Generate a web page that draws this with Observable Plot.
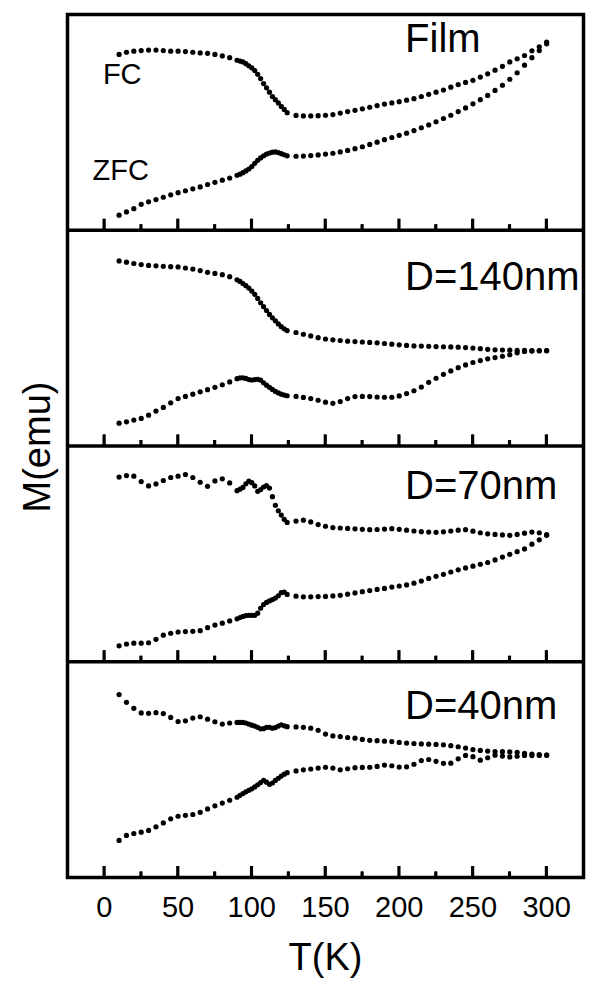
<!DOCTYPE html>
<html>
<head>
<meta charset="utf-8">
<script src="https://cdn.jsdelivr.net/npm/d3@7"></script>
<script src="https://cdn.jsdelivr.net/npm/@observablehq/plot@0.6"></script>
<style>
  html, body { margin: 0; padding: 0; background: #fff; }
  #chart { width: 600px; height: 987px; background: #fff; }
  #chart svg { font-family: "Liberation Sans", Arial, Helvetica, sans-serif; }
</style>
</head>
<body>
<div id="chart"></div>
<script>
// ---- data (M in arbitrary units, 0 = panel bottom, 100 = panel top) ----
const panels = ["Film", "D=140nm", "D=70nm", "D=40nm"];

const temps = [10,15,20,25,30,35,40,45,50,55,60,65,70,75,80,85,90,
  92,94,96,98,100,102,104,106,108,110,112,114,116,118,120,122,124,
  130,135,140,145,150,155,160,165,170,175,180,185,190,195,200,205,210,215,220,225,230,235,240,245,250,255,260,265,270,275,280,285,290,295,300];

const filmFC = [81.5,82.5,83,83.3,83.5,83.5,83.3,83,83,82.8,82.5,82.2,82,81.5,80.8,80,78.8,
  78.4,78,77.2,76.2,75.3,74,72.3,70.3,68,66,64,62,60.5,59,57.4,56,54.5,
  53.2,53,53,53.1,53.3,53.6,54.3,55,55.6,56.3,57,57.8,58.5,59,59.6,60.3,61,62,63,64,65,66.3,67.5,68.5,69.5,71,72.5,74.2,76,78,79.5,81,83.2,85,87.2];
const filmZFC = [7,8.5,10,12,13.2,14.2,15.3,16.4,17.4,18.3,19.2,20.1,21.2,22.2,23.2,24.2,25.5,
  26,26.7,27.5,28.4,29.5,31,32.4,33.5,34.5,35.3,35.8,36.2,36.3,36,35.5,35,34.5,
  34.3,34.4,34.6,34.9,35.3,35.7,36.3,37,37.8,38.7,39.8,40.8,42,43,44,45,46.2,47.5,48.8,50.3,51.8,53.3,55,56.7,58.6,60.5,62.5,64.8,67.2,70,73,76.5,80,83.3,86.4];

const d140FC = [85.8,85.2,84.6,84.1,83.7,83.5,83.3,83.1,83,82.5,82,81.3,80.5,80,79.4,78.5,77,
  76.3,75.3,74.3,73.2,71.8,70.3,68.4,66.4,64.6,62.8,61,59.4,58,56.6,55.3,54.3,53.5,
  52.6,51.8,51,50.2,49.6,49.2,48.9,48.6,48.4,48.2,48,47.8,47.5,47.2,46.9,46.6,46.4,46.3,46.2,46.1,46,45.9,45.8,45.6,45.4,45.1,44.8,44.6,44.5,44.4,44.3,44.3,44.2,44.2,44.2];
const d140ZFC = [10.6,11.2,12,12.8,14.3,16.2,17.9,20,22,23,24,25.1,26.1,27.2,28.4,29.7,31.2,
  31.6,31.6,31.3,30.8,30.6,30.8,30.9,30.5,29.3,28.2,27.2,26.2,25.3,24.6,24,23.6,23.3,
  23,22.5,22,21.2,20.3,19.8,20.6,22,22.9,23,22.9,22.7,22.6,22.6,23.2,24.3,25.6,27.3,29.5,31.4,33.2,34.8,36.3,37.6,38.7,39.6,40.4,41,41.6,42.3,43.2,43.8,44,44.1,44.2];

const d70FC = [85.6,86.3,86,83.5,81.5,82.4,84,85.4,86,86.8,85.4,83.2,81.3,83.8,84.8,82.9,79.3,
  80,80.8,82.5,83.7,83,81.5,79,79.8,81,81.6,80.5,76.5,72.5,70,68,66,64.6,
  65.2,65.6,64.8,63.6,62.8,62.2,62,61.8,61.6,61.4,61.2,61.3,61.5,61.7,61.4,61,60.6,60.3,60.1,60,60.2,60.6,61,61.2,60.5,59.8,59.3,59,58.8,58.6,59,59.6,60.1,59.8,58.9];
const d70ZFC = [7.4,8.2,8.6,8.6,8.8,10.4,12.3,13.2,13.8,14,14.1,14.4,15.8,17,17.9,18.9,19.9,
  20.5,21,21.4,21.5,21.5,21.5,22.5,24.8,26.5,27.5,28.2,28.8,29.5,30.6,32,32.3,31.2,
  30.4,30.1,30.1,30.2,30.3,30.5,30.8,31.3,31.9,32.5,33,33.5,34,34.6,35.1,35.6,36.4,37.4,38.6,39.6,40.5,41.6,42.6,43.5,44.3,45.2,46,47.2,48.5,49.8,51,52.3,54.5,56.5,58.6];

const d40FC = [84.8,81.2,78.4,76.3,76.1,76.4,76,74.2,72.3,72.6,73.9,74.5,73.4,72.2,71.1,71.6,71.9,
  71.9,71.9,71.6,71.1,70.6,70.2,69.6,68.9,69,69.6,69.6,69.2,69.5,70.2,70.8,70.3,69.9,
  69.8,69.6,69.2,68.2,66.5,65.6,65.3,64.9,64.6,64,63.6,63.4,63.2,63,62.6,62.3,62.1,61.9,61.8,61.7,61.5,61.1,60.6,60,59.3,58.9,58.6,58.4,58.3,58.2,58,57.6,57.2,57,56.7];
const d40ZFC = [17.2,19.5,20.4,21,21.8,23.5,25.3,27.2,28.4,28.8,29.2,30.2,31.8,33.2,34.5,35.8,37.2,
  38.1,38.9,39.7,40.4,41.1,42,43,44,45,44.2,43.2,43.8,45,46,47,47.9,48.6,
  49.4,49.9,50.3,50.7,51.1,50.7,49.9,50.4,50.9,51,51.1,51.5,52.1,51.8,51.2,51.3,52.5,54.2,54.7,53.8,52.9,53,55,56.6,56,54.4,55.5,56.7,56.3,55.9,56.2,56.6,56.5,56.6,56.7];

const majorTicks = [0, 50, 100, 150, 200, 250, 300];
const minorTicks = [25, 75, 125, 175, 225, 275];
const curveNames = ["FC", "ZFC"];
const xLabel = "T(K)";
const yLabel = "M(emu)";

// ---- layout: panels stacked on one y scale, each panel spans PANEL units ----
const PANEL = 100;
const base = i => (panels.length - 1 - i) * PANEL;   // bottom of panel i

const fcSeries = [filmFC, d140FC, d70FC, d40FC];
const zfcSeries = [filmZFC, d140ZFC, d70ZFC, d40ZFC];
const rows = panels.flatMap((p, i) => temps.flatMap((t, j) => [
  {panel: p, T: t, y: base(i) + fcSeries[i][j], curve: "FC"},
  {panel: p, T: t, y: base(i) + zfcSeries[i][j], curve: "ZFC"}
]));

const W = 600, H = 987;
const mT = 14, mB = 110, mL = 67, mR = 17;
const unitPx = (H - mT - mB) / (panels.length * PANEL);
const px = v => v / unitPx;                 // pixel length -> y units
const kx = v => v * 350 / (W - mL - mR);    // pixel length -> T units

const tickRows = (ticks, len) => panels.flatMap((p, i) => ticks.map(t => ({T: t, y1: base(i), y2: base(i) + px(len)})));
const majorTickRows = tickRows(majorTicks, 11);
const minorTickRows = tickRows(minorTicks, 5.5);
const dividers = panels.slice(1).map((p, k) => base(k));   // tops of panels 2..4

const panelLabelRows = panels.map((p, i) => ({text: p, T: 204, y: base(i) + [82.5, 72.5, 75.5, 73.5][i]}));
const curveLabelRows = [
  {text: curveNames[0], T: -1, y: base(0) + 68},
  {text: curveNames[1], T: -8, y: base(0) + 23.5}
];

const half = kx(1.35);
const chart = Plot.plot({
  width: W,
  height: H,
  marginTop: mT,
  marginBottom: mB,
  marginLeft: mL,
  marginRight: mR,
  x: {domain: [-25, 325], axis: null},
  y: {domain: [0, panels.length * PANEL], axis: null},
  marks: [
    Plot.dot(rows, {x: "T", y: "y", r: 2.6, fill: "#000", stroke: "none"}),
    Plot.text(panelLabelRows, {x: "T", y: "y", text: "text", textAnchor: "start", lineAnchor: "bottom", fontSize: 40, fill: "#000"}),
    Plot.text(curveLabelRows, {x: "T", y: "y", text: "text", textAnchor: "start", lineAnchor: "bottom", fontSize: 29, fill: "#000"}),
    Plot.text(majorTicks, {x: d => d, frameAnchor: "bottom", text: d => String(d), lineAnchor: "middle", dy: 30, fontSize: 29, fill: "#000"}),
    Plot.text([xLabel], {frameAnchor: "bottom", text: d => d, lineAnchor: "middle", dy: 80, fontSize: 38, fill: "#000"}),
    Plot.text([yLabel], {frameAnchor: "left", text: d => d, rotate: -90, textAnchor: "middle", lineAnchor: "middle", dx: -30, dy: 1, fontSize: 38, fill: "#000"}),
    Plot.ruleY(dividers, {y: d => d, stroke: "#000", strokeWidth: 3.5}),
    Plot.frame({stroke: "#000", strokeWidth: 3.5}),
    Plot.rect(majorTickRows, {x1: d => d.T - half, x2: d => d.T + half, y1: "y1", y2: "y2", fill: "#000"}),
    Plot.rect(minorTickRows, {x1: d => d.T - half, x2: d => d.T + half, y1: "y1", y2: "y2", fill: "#000"}),
    Plot.ruleX(majorTickRows, {x: "T", y1: "y1", y2: "y2", stroke: "#000", strokeWidth: 2.6}),
    Plot.ruleX(minorTickRows, {x: "T", y1: "y1", y2: "y2", stroke: "#000", strokeWidth: 2.6})
  ]
});

document.getElementById("chart").appendChild(chart);
</script>
</body>
</html>
